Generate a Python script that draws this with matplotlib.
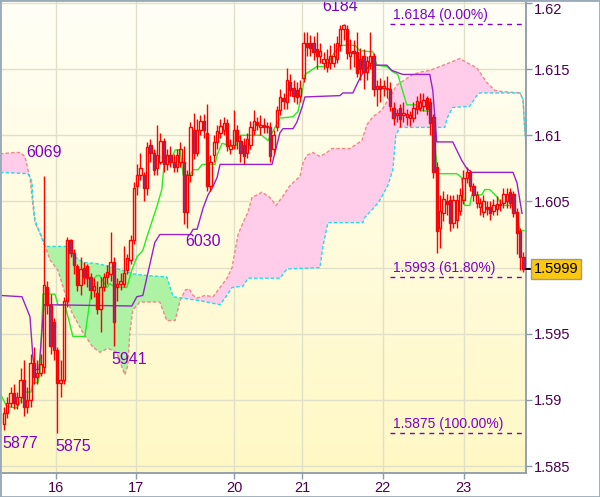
import numpy as np
import matplotlib.pyplot as plt
from matplotlib.patches import Rectangle
from matplotlib.colors import LinearSegmentedColormap

plt.rcParams['font.family'] = ['Liberation Sans', 'DejaVu Sans']

# hourly bars, prices written as the 4 digits after "1." (5890 -> 1.5890)
opens = [5882, 5890, 5898, 5905, 5897, 5902, 5915, 5895, 5900, 5928,
         5917, 5920, 5925, 5985, 5972, 5959, 5938, 5913, 5915, 5975,
         6021, 6011, 6001, 5987, 6000, 6001, 5993, 5983, 5981, 5969,
         5985, 5993, 5995, 6004, 5985, 5988, 5988, 5998, 6006, 6021,
         6062, 6070, 6070, 6060, 6093, 6087, 6075, 6080, 6096, 6078,
         6085, 6080, 6076, 6080, 6080, 6042, 6070, 6104, 6087, 6104,
         6111, 6102, 6062, 6085, 6095, 6102, 6104, 6109, 6090, 6093,
         6104, 6096, 6093, 6087, 6093, 6104, 6110, 6106, 6108, 6106,
         6106, 6090, 6106, 6119, 6128, 6125, 6140, 6136, 6134, 6130,
         6143, 6170, 6170, 6170, 6165, 6160, 6155, 6152, 6155, 6155,
         6158, 6168, 6180, 6180, 6160, 6164, 6163, 6158, 6160, 6148,
         6155, 6160, 6135, 6137, 6136, 6136, 6135, 6121, 6115, 6121,
         6115, 6114, 6113, 6113, 6120, 6121, 6122, 6128, 6125, 6114,
         6076, 6030, 6041, 6050, 6051, 6034, 6036, 6043, 6051, 6068,
         6072, 6062, 6049, 6046, 6042, 6046, 6046, 6043, 6044, 6048,
         6049, 6050, 6057, 6056, 6042, 6028, 6008]
highs = [5895, 5902, 5910, 5912, 5906, 5924, 5930, 5910, 5935, 5940,
         5930, 5935, 6069, 5990, 5980, 5962, 5940, 5930, 5978, 6023,
         6022, 6014, 6003, 6008, 6004, 6003, 5996, 5992, 5990, 5993,
         5996, 6002, 6027, 6008, 5992, 5996, 6016, 6010, 6025, 6065,
         6078, 6087, 6072, 6095, 6097, 6090, 6108, 6102, 6098, 6090,
         6092, 6086, 6090, 6095, 6092, 6074, 6110, 6117, 6112, 6115,
         6116, 6124, 6085, 6100, 6108, 6112, 6114, 6112, 6097, 6119,
         6108, 6100, 6098, 6102, 6111, 6119, 6114, 6115, 6113, 6110,
         6110, 6104, 6122, 6135, 6132, 6151, 6146, 6142, 6140, 6142,
         6178, 6178, 6176, 6175, 6178, 6170, 6163, 6165, 6168, 6170,
         6175, 6183, 6184, 6183, 6173, 6172, 6178, 6166, 6165, 6160,
         6178, 6162, 6142, 6143, 6142, 6145, 6140, 6125, 6120, 6124,
         6125, 6120, 6118, 6125, 6130, 6132, 6132, 6130, 6128, 6116,
         6080, 6055, 6058, 6056, 6055, 6055, 6056, 6060, 6074, 6076,
         6074, 6064, 6058, 6053, 6055, 6050, 6050, 6052, 6054, 6052,
         6060, 6060, 6060, 6058, 6045, 6030, 6012]
lows = [5877, 5886, 5895, 5893, 5893, 5898, 5888, 5890, 5895, 5912,
        5912, 5918, 5920, 5965, 5935, 5930, 5875, 5902, 5912, 5970,
        6008, 5995, 5982, 5979, 5988, 5985, 5976, 5978, 5965, 5951,
        5982, 5988, 5990, 5941, 5975, 5983, 5985, 5995, 6003, 6018,
        6055, 6066, 6050, 6055, 6080, 6070, 6070, 6078, 6072, 6074,
        6076, 6072, 6072, 6076, 6033, 6030, 6065, 6082, 6084, 6100,
        6098, 6058, 6058, 6080, 6090, 6098, 6100, 6088, 6086, 6090,
        6090, 6080, 6078, 6083, 6090, 6100, 6104, 6100, 6102, 6102,
        6080, 6086, 6103, 6115, 6120, 6120, 6130, 6125, 6124, 6125,
        6140, 6160, 6160, 6157, 6150, 6155, 6150, 6148, 6150, 6152,
        6155, 6164, 6172, 6158, 6150, 6152, 6144, 6142, 6135, 6142,
        6150, 6130, 6122, 6125, 6130, 6128, 6118, 6108, 6110, 6106,
        6110, 6108, 6107, 6110, 6116, 6118, 6118, 6115, 6100, 6068,
        6011, 6015, 6035, 6040, 6028, 6030, 6030, 6040, 6048, 6064,
        6058, 6050, 6045, 6040, 6038, 6040, 6036, 6040, 6040, 6043,
        6045, 6045, 6045, 6038, 6010, 5998, 5997]
closes = [5890, 5898, 5905, 5898, 5902, 5915, 5895, 5900, 5928, 5917,
          5920, 5927, 5987, 5972, 5941, 5938, 5913, 5915, 5975, 6021,
          6011, 6002, 5987, 5999, 5993, 5992, 5983, 5986, 5969, 5985,
          5993, 5997, 6004, 5959, 5988, 5990, 5996, 6007, 6021, 6060,
          6070, 6075, 6060, 6091, 6087, 6074, 6085, 6096, 6078, 6085,
          6080, 6076, 6085, 6090, 6042, 6070, 6106, 6087, 6104, 6111,
          6104, 6062, 6080, 6095, 6103, 6107, 6109, 6092, 6093, 6104,
          6096, 6087, 6084, 6097, 6106, 6111, 6108, 6108, 6106, 6107,
          6084, 6100, 6119, 6129, 6126, 6142, 6134, 6130, 6129, 6136,
          6170, 6167, 6166, 6163, 6160, 6164, 6158, 6158, 6160, 6160,
          6170, 6180, 6183, 6162, 6163, 6162, 6147, 6150, 6148, 6156,
          6160, 6135, 6137, 6135, 6137, 6135, 6122, 6113, 6117, 6112,
          6117, 6116, 6115, 6121, 6126, 6125, 6127, 6120, 6109, 6072,
          6028, 6043, 6052, 6048, 6034, 6051, 6051, 6055, 6068, 6072,
          6062, 6055, 6055, 6049, 6050, 6044, 6041, 6047, 6048, 6047,
          6056, 6056, 6049, 6041, 6026, 6008, 5999]

# ichimoku lines (bar index, value)
tenkan_x = [-1.2, 0.9, 3.9, 6.3, 8.1, 8.7, 10.2, 10.8, 11.7, 15.3, 16.2, 18.3, 20.7, 24.3, 26.7,
            27.9, 28.8, 30.9, 31.8, 33.3, 36.9, 38.4, 39.9, 41.7, 42.9, 45.9, 47.4, 48.3, 50.8,
            51.4, 52.9, 53.8, 55.9, 56.8, 58.3, 59.5, 63.4, 64, 65.5, 67.9, 69.4, 70.9, 77.5,
            79.3, 82.9, 86.8, 88.3, 89.5, 90.4, 94, 96.4, 97.9, 99.4, 100.9, 101.8, 105.4, 106.9,
            110.8, 112, 115, 116.8, 118.3, 119.8, 121, 124, 124.9, 127.9, 128.8, 130.3, 136,
            137.5, 138.4, 139.9, 140.5, 143.5, 144.4, 145.9, 148.3, 149.5, 152.9, 154.1, 155, 156.2]
tenkan_v = [5905, 5895, 5894, 5906, 5906, 5913, 5913, 5920, 5980, 5980, 5972, 5972, 5948, 5948, 5991,
            5994, 5994, 5985, 5988, 5985, 5985, 5998, 6008, 6013, 6023, 6046, 6059, 6084, 6085,
            6089, 6089, 6070, 6070, 6074, 6074, 6078, 6078, 6085, 6094, 6092, 6090, 6100, 6100,
            6096, 6113, 6114, 6118, 6132, 6146, 6152, 6152, 6157, 6163, 6167, 6168, 6168, 6164,
            6163, 6153, 6152, 6148, 6146, 6133, 6123, 6123, 6119, 6118, 6109, 6071, 6071,
            6068, 6047, 6047, 6055, 6055, 6059, 6059, 6053, 6047, 6047, 6040, 6028, 6028]
kijun_x = [-1.2, 5.4, 7.8, 8.7, 9.3, 10.5, 12, 38.4, 39.9, 41.7, 45.3, 46.8, 55.9, 56.8, 58,
           59.8, 61.3, 62.5, 64, 64.9, 80.5, 82.9, 83.8, 86.8, 88, 89.5, 90.4, 100.9, 101.8,
           104.8, 106.3, 107.5, 109.9, 115, 116.5, 119.8, 127.9, 128.8, 130, 134.8, 137.5,
           139, 140.5, 152.9, 154.1, 155.6]
kijun_v = [5979, 5978, 5963, 5932, 5923, 5923, 5972, 5971, 5978, 5979, 6019, 6025, 6025, 6029, 6029,
           6045, 6055, 6060, 6068, 6078, 6078, 6102, 6105, 6105, 6110, 6121, 6129, 6130, 6132,
           6132, 6140, 6146, 6153, 6153, 6149, 6146, 6146, 6134, 6095, 6095, 6081,
           6075, 6072, 6072, 6064, 6041]
span_a_x = [-1.2, 3.3, 4.8, 6.3, 7.2, 7.8, 8.7, 9.3, 11.4, 13.8, 16.2, 18.3, 20.4, 23.7, 26.7,
            28.8, 31.2, 33.9, 35.4, 36.3, 37.2, 37.8, 38.7, 40.8, 46.8, 47.7, 48.9, 51.4, 52.9,
            54.4, 55.6, 56.8, 58, 60.4, 62.8, 64.9, 67, 68.5, 70.3, 71.8, 73.3, 74.5, 77.5,
            79.9, 81.7, 83.5, 85.9, 88.9, 89.8, 91, 92.8, 94.9, 97, 98.5, 103.9, 107.5, 109,
            110.8, 113.5, 115.9, 118, 120.4, 122.8, 125.5, 127.9, 133, 136.9, 139, 142, 145,
            147.4, 149.8, 155, 155.9, 156.5, 157.1]
span_a_v = [6086, 6087, 6087, 6084, 6074, 6068, 6047, 6034, 6023, 6006, 5998, 5981, 5966, 5951, 5940,
            5936, 5939, 5936, 5925, 5919, 5926, 5951, 5968, 5974, 5974, 5968, 5960, 5960, 5975,
            5983, 5984, 5979, 5977, 5979, 5978, 5985, 5992, 6000, 6025, 6034, 6042, 6053, 6057,
            6053, 6047, 6053, 6062, 6069, 6079, 6085, 6087, 6084, 6087, 6090, 6090, 6096, 6108,
            6114, 6119, 6129, 6138, 6142, 6146, 6148, 6149, 6154, 6158, 6155, 6151, 6140,
            6134, 6133, 6132, 6127, 6102, 6087]
span_b_x = [-1.2, 7.2, 8.4, 8.7, 9.3, 10.8, 12.3, 18.9, 20.4, 23.7, 27.9, 31.8, 35.4, 39.3, 42.9,
            48.9, 50.8, 58.9, 64.9, 66.4, 68.5, 71.8, 73.3, 82.9, 85, 94.9, 95.8, 97.3, 107.8,
            108.4, 111.4, 112.9, 115.3, 116.8, 117.7, 118.9, 132.4, 133.3, 134.8, 139.9, 142,
            142.9, 155, 155.9, 156.5, 157.1]
span_b_v = [6072, 6071, 6065, 6051, 6036, 6026, 6016, 6016, 6010, 6004, 6003, 6001, 5998, 5995, 5994,
            5993, 5978, 5975, 5972, 5977, 5985, 5986, 5992, 5992, 5999, 6000, 6016, 6034, 6034,
            6038, 6046, 6051, 6062, 6074, 6100, 6106, 6106, 6114, 6121, 6122, 6130,
            6132, 6132, 6127, 6102, 6087]

# day boundaries on the bar axis
day_labels = ['16', '17', '20', '21', '22', '23']
day_bars = [15.6, 39.6, 69.1, 89.5, 113.8, 138.1]

# fibo retracement
fib_levels = [6184, 5993, 5875]
fib_pcts = ['0.00%', '61.80%', '100.00%']
fib_from, fib_to = 115.9, 155.9

peak_bars = [12, 102]
trough_bars = [0, 16, 33, 55]


def px(v):
    return 1 + np.asarray(v, dtype=float) / 10000


o, h, l, c = px(opens), px(highs), px(lows), px(closes)
x = np.arange(len(c))

RED = '#ff0000'
PURPLE_TXT = '#8000c8'
AXIS_TXT = '#4c0050'

fig = plt.figure(figsize=(6.0, 4.97), dpi=100)
fig.patch.set_facecolor('white')
ax = fig.add_axes([1 / 600, 24 / 497, 525 / 600, 472 / 497])
ax.set_xlim(-0.9, 156.8)
ax.set_ylim(1.58448, 1.62015)

# background gradient
grad = np.linspace(0, 1, 256).reshape(-1, 1)
bg = LinearSegmentedColormap.from_list('bg', ['#fff8c4', '#fffff6'])
ax.imshow(grad, cmap=bg, origin='lower', aspect='auto', extent=[0, 1, 0, 1],
          transform=ax.transAxes, zorder=0)

# cloud
xs = np.linspace(-1.5, 157.5, 3000)
a = np.interp(xs, span_a_x, px(span_a_v))
b = np.interp(xs, span_b_x, px(span_b_v))
ax.fill_between(xs, a, b, where=a >= b, interpolate=True, color='#ffcdea', lw=0, zorder=1)
ax.fill_between(xs, a, b, where=a < b, interpolate=True, color='#aef2a4', lw=0, zorder=1)
ax.plot(span_a_x, px(span_a_v), color='#f08888', lw=1.0, ls=(0, (2.5, 1.5)), zorder=2)
ax.plot(span_b_x, px(span_b_v), color='#22dde8', lw=1.0, ls=(0, (2.5, 1.5)), zorder=2)

# tenkan / kijun
ax.plot(tenkan_x, px(tenkan_v), color='#22ee22', lw=1.0, zorder=3)
ax.plot(kijun_x, px(kijun_v), color='#9922cc', lw=1.0, zorder=3)

# candles
top = np.maximum(o, c)
bot = np.minimum(o, c)
up = c >= o
ax.vlines(x, top, h, color=RED, lw=1.0, zorder=4)
ax.vlines(x, l, bot, color=RED, lw=1.0, zorder=4)
ax.bar(x[up], (top - bot)[up], bottom=bot[up], width=0.7, facecolor='none',
       edgecolor=RED, lw=1.0, zorder=5)
ax.bar(x[~up], (top - bot)[~up], bottom=bot[~up], width=0.7, facecolor='#6a3ea4',
       edgecolor=RED, lw=1.0, zorder=5)

# fibo
ax.hlines(px(fib_levels), fib_from, fib_to, colors=PURPLE_TXT, lw=1.0,
          linestyles=(0, (3.5, 3.5)), zorder=6)
for lv, pc in zip(fib_levels, fib_pcts):
    ax.annotate(f'{px(lv):.4f} ({pc})', xy=(fib_from + 0.9, px(lv)), xytext=(0, 2),
                textcoords='offset pixels', ha='left', va='bottom', fontsize=10,
                color=PURPLE_TXT, zorder=7)

# extreme labels (kept inside the plot at the top)
top_pix = ax.transAxes.transform((0, 1))[1]
for i in peak_bars:
    ypix = ax.transData.transform((i, h[i]))[1]
    if ypix + 32 > top_pix:
        ax.annotate(str(highs[i]), xy=(i, 1), xycoords=('data', 'axes fraction'),
                    xytext=(-3, 2), textcoords='offset pixels', ha='center', va='top',
                    fontsize=11.5, color=PURPLE_TXT, zorder=7, annotation_clip=False)
    else:
        ax.annotate(str(highs[i]), xy=(i, h[i]), xytext=(0, 16), textcoords='offset pixels',
                    ha='center', va='bottom', fontsize=11.5, color=PURPLE_TXT, zorder=7)
for i in trough_bars:
    ax.annotate(str(lows[i]), xy=(i, l[i]), xytext=(-2, -6), textcoords='offset pixels',
                ha='left', va='top', fontsize=11.5, color=PURPLE_TXT, zorder=7)

# axes
yt = np.round(np.arange(1.585, 1.6201, 0.005), 3)
ax.set_yticks(yt)
# 1.6 sits under the last-price box
ax.set_yticklabels(['' if abs(v - 1.6) < 1e-9 else f'{v:g}' for v in yt])
ax.yaxis.tick_right()
ax.set_xticks(day_bars)
ax.set_xticklabels(day_labels)
ax.tick_params(axis='both', direction='out', length=4, width=1, color='#8c9aa8',
               labelcolor=AXIS_TXT, labelsize=10.5, pad=2)
ax.get_yticklabels()[-1].set_va('top')
ax.set_axisbelow(True)
ax.grid(True, color='#e0e0c8', lw=1.0)
for s in ['top', 'left']:
    ax.spines[s].set_visible(False)
for s in ['right', 'bottom']:
    ax.spines[s].set_color('#8c9aa8')
    ax.spines[s].set_linewidth(1.3)

# last price marker
last = c[-1]
ax.plot([1.0, 1.01], [last, last], transform=ax.get_yaxis_transform(), color='black',
        lw=1.3, clip_on=False, zorder=8)
ax.annotate(f'{last:.4f}', xy=(1.0, last), xycoords=('axes fraction', 'data'),
            xytext=(8, 0), textcoords='offset pixels', ha='left', va='center', fontsize=10.5,
            color='black', annotation_clip=False, zorder=9,
            bbox=dict(boxstyle='square,pad=0.18', fc='#fcc80c', ec='#9a9a9a', lw=1))

fig.add_artist(Rectangle((0, 0), 1, 1, transform=fig.transFigure, fill=False,
                         edgecolor='#9aaab8', lw=2))

fig.savefig('out.png', dpi=100)
